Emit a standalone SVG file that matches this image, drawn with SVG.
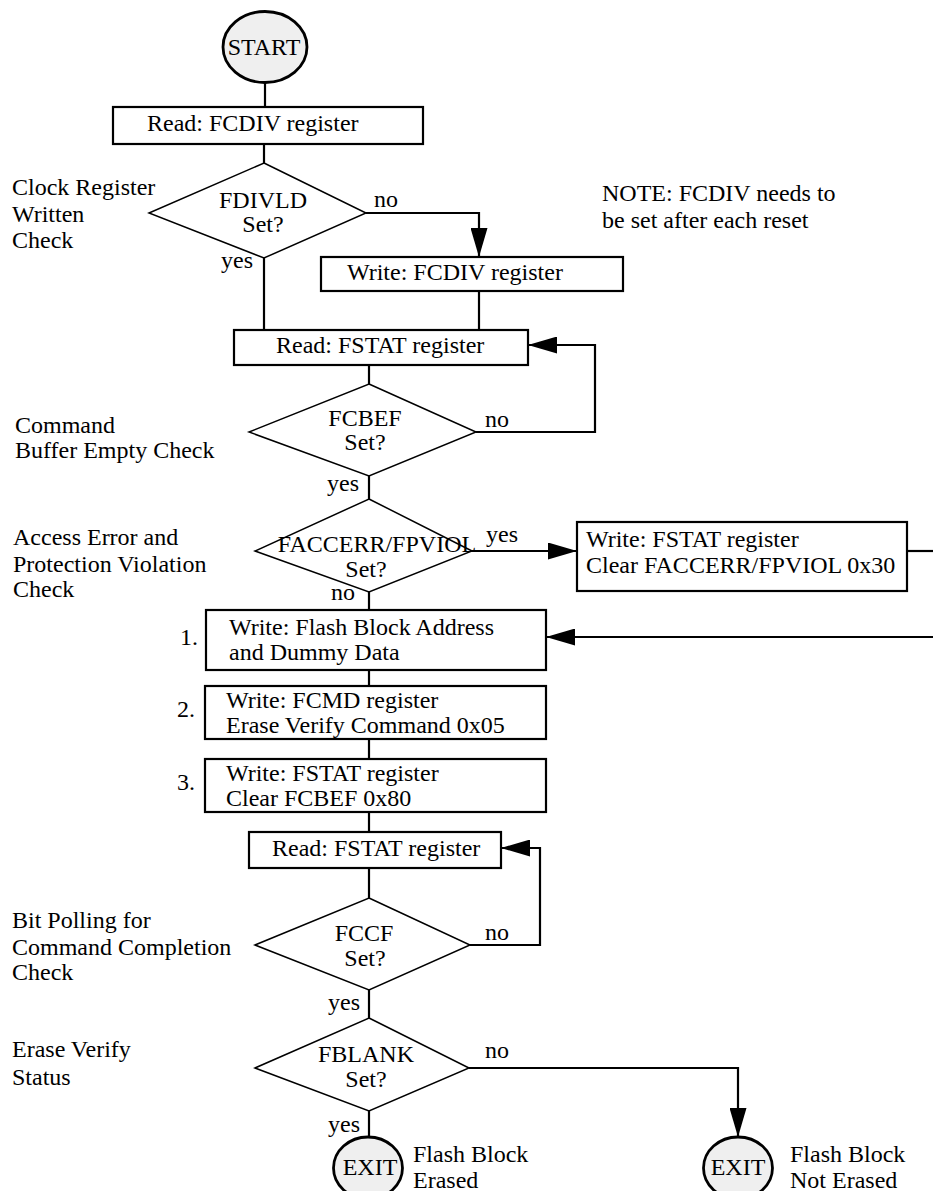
<svg xmlns="http://www.w3.org/2000/svg" width="933" height="1191" viewBox="0 0 933 1191">
<style>
text{font-family:"Liberation Serif","Times New Roman",serif;font-size:24px;fill:#000}
.c{text-anchor:middle}
.box{fill:#fff;stroke:#000;stroke-width:2.2}
.dia{fill:#fff;stroke:#000;stroke-width:1.5}
.term{fill:#efefef;stroke:#000;stroke-width:2.8}
.ln{fill:none;stroke:#000;stroke-width:2.2}
</style>
<defs>
<marker id="ah" viewBox="0 0 29 17" refX="29" refY="8.5" markerWidth="29" markerHeight="17" markerUnits="userSpaceOnUse" orient="auto">
<path d="M0,0 L29,8.5 L0,17 Z" fill="#000"/>
</marker>
</defs>
<rect width="933" height="1191" fill="#fff"/>
<g id="connectors">
<line class="ln" x1="265" y1="83" x2="265" y2="107"/>
<line class="ln" x1="264" y1="144" x2="264" y2="163"/>
<line class="ln" x1="264" y1="258" x2="264" y2="330"/>
<polyline class="ln" points="366,213 479,213 479,257" marker-end="url(#ah)"/>
<line class="ln" x1="479" y1="291" x2="479" y2="330"/>
<line class="ln" x1="369" y1="365" x2="369" y2="384"/>
<polyline class="ln" points="476,432 595,432 595,345 528,345" marker-end="url(#ah)"/>
<line class="ln" x1="369" y1="476" x2="369" y2="499"/>
<line class="ln" x1="472" y1="551" x2="577" y2="551" marker-end="url(#ah)"/>
<line class="ln" x1="907" y1="551" x2="935" y2="551"/>
<line class="ln" x1="935" y1="637" x2="546" y2="637" marker-end="url(#ah)"/>
<line class="ln" x1="369" y1="592" x2="369" y2="610"/>
<line class="ln" x1="369" y1="670" x2="369" y2="686"/>
<line class="ln" x1="369" y1="739" x2="369" y2="759"/>
<line class="ln" x1="369" y1="812" x2="369" y2="832"/>
<line class="ln" x1="369" y1="868" x2="369" y2="898"/>
<polyline class="ln" points="470,945 540,945 540,848 501,848" marker-end="url(#ah)"/>
<line class="ln" x1="369" y1="990" x2="369" y2="1018"/>
<polyline class="ln" points="469,1068 738,1068 738,1137" marker-end="url(#ah)"/>
<line class="ln" x1="369" y1="1111" x2="369" y2="1137"/>
</g>
<g id="start">
<ellipse class="term" cx="265" cy="47" rx="42" ry="35.5"/>
<text class="c" x="264" y="55">START</text>
</g>
<g id="read-fcdiv">
<rect class="box" x="113" y="107" width="310" height="37"/>
<text x="147" y="131">Read: FCDIV register</text>
</g>
<g id="fdivld">
<polygon class="dia" points="264,163 366,213 264,258 149,213"/>
<text class="c" x="263" y="208">FDIVLD</text>
<text class="c" x="263" y="232">Set?</text>
<text x="374" y="207">no</text>
<text x="221" y="268">yes</text>
<text x="12" y="195">Clock Register</text>
<text x="12" y="222">Written</text>
<text x="12" y="248">Check</text>
</g>
<g id="note">
<text x="602" y="201">NOTE: FCDIV needs to</text>
<text x="602" y="228">be set after each reset</text>
</g>
<g id="write-fcdiv">
<rect class="box" x="321" y="257" width="302" height="34"/>
<text x="347" y="280">Write: FCDIV register</text>
</g>
<g id="read-fstat-1">
<rect class="box" x="234" y="330" width="294" height="35"/>
<text x="276" y="353">Read: FSTAT register</text>
</g>
<g id="fcbef">
<polygon class="dia" points="369,384 476,432 369,476 249,432"/>
<text class="c" x="365" y="426">FCBEF</text>
<text class="c" x="365" y="450">Set?</text>
<text x="485" y="427">no</text>
<text x="327" y="491">yes</text>
<text x="15" y="433">Command</text>
<text x="15" y="458">Buffer Empty Check</text>
</g>
<g id="faccerr">
<polygon class="dia" points="369,499 472,551 369,592 255,551"/>
<text class="c" x="377" y="552">FACCERR/FPVIOL</text>
<text class="c" x="366" y="577">Set?</text>
<text x="486" y="542">yes</text>
<text x="331" y="600">no</text>
<text x="13" y="545">Access Error and</text>
<text x="13" y="572">Protection Violation</text>
<text x="13" y="597">Check</text>
</g>
<g id="write-fstat-clear">
<rect class="box" x="577" y="522" width="330" height="69"/>
<text x="586" y="547">Write: FSTAT register</text>
<text x="586" y="573">Clear FACCERR/FPVIOL 0x30</text>
</g>
<g id="step1">
<rect class="box" x="206" y="610" width="340" height="60"/>
<text x="229" y="635">Write: Flash Block Address</text>
<text x="229" y="660">and Dummy Data</text>
<text x="180" y="645">1.</text>
</g>
<g id="step2">
<rect class="box" x="205" y="686" width="341" height="53"/>
<text x="226" y="708">Write: FCMD register</text>
<text x="226" y="733">Erase Verify Command 0x05</text>
<text x="177" y="717">2.</text>
</g>
<g id="step3">
<rect class="box" x="205" y="759" width="341" height="53"/>
<text x="226" y="781">Write: FSTAT register</text>
<text x="226" y="806">Clear FCBEF 0x80</text>
<text x="177" y="790">3.</text>
</g>
<g id="read-fstat-2">
<rect class="box" x="249" y="832" width="252" height="36"/>
<text x="272" y="856">Read: FSTAT register</text>
</g>
<g id="fccf">
<polygon class="dia" points="369,898 470,945 369,990 255,945"/>
<text class="c" x="364" y="941">FCCF</text>
<text class="c" x="365" y="966">Set?</text>
<text x="485" y="940">no</text>
<text x="328" y="1010">yes</text>
<text x="12" y="928">Bit Polling for</text>
<text x="12" y="955">Command Completion</text>
<text x="12" y="980">Check</text>
</g>
<g id="fblank">
<polygon class="dia" points="369,1018 469,1068 369,1111 255,1068"/>
<text class="c" x="366" y="1062">FBLANK</text>
<text class="c" x="366" y="1087">Set?</text>
<text x="485" y="1058">no</text>
<text x="328" y="1132">yes</text>
<text x="12" y="1057">Erase Verify</text>
<text x="12" y="1085">Status</text>
</g>
<g id="exit-erased">
<ellipse class="term" cx="368" cy="1168" rx="34.5" ry="31"/>
<text class="c" x="370" y="1175">EXIT</text>
<text x="413" y="1162">Flash Block</text>
<text x="413" y="1188">Erased</text>
</g>
<g id="exit-not-erased">
<ellipse class="term" cx="738" cy="1168" rx="34.5" ry="31"/>
<text class="c" x="738" y="1175">EXIT</text>
<text x="790" y="1162">Flash Block</text>
<text x="790" y="1188">Not Erased</text>
</g>
</svg>
